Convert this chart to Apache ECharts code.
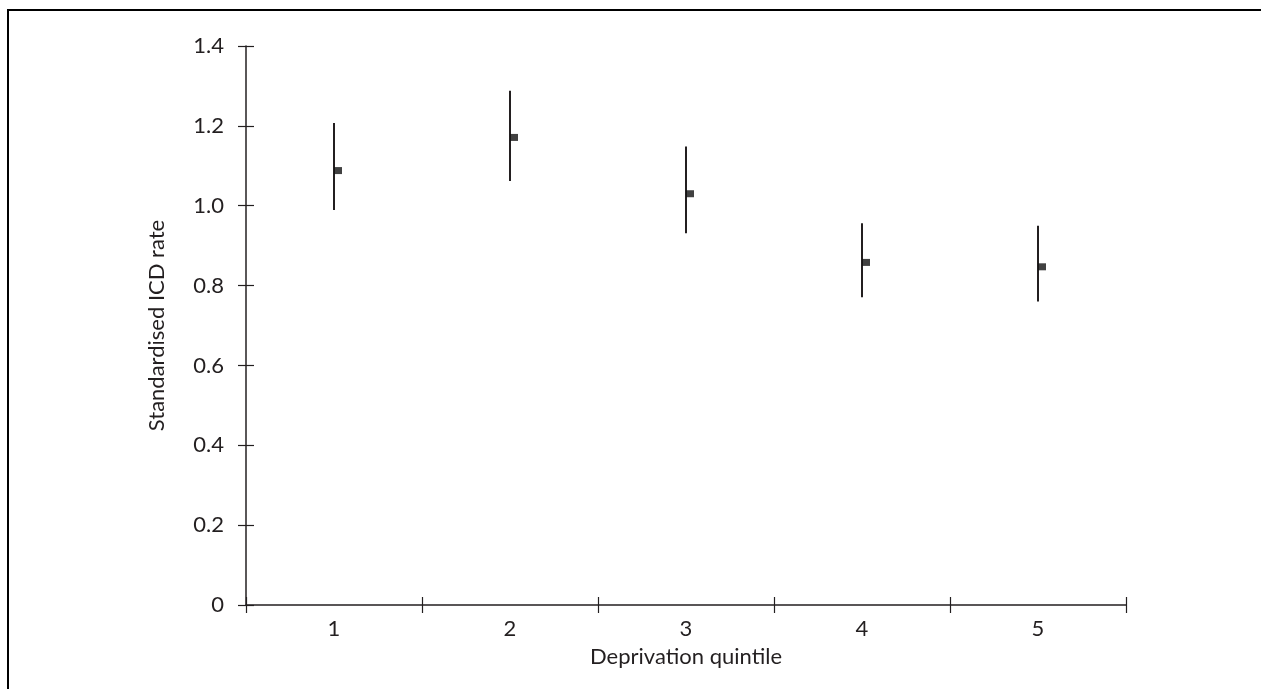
<!DOCTYPE html>
<html><head><meta charset="utf-8">
<script src="https://cdn.jsdelivr.net/npm/echarts@6/dist/echarts.min.js"></script>
<style>html,body{margin:0;padding:0;background:#fff}#c{width:1261px;height:689px}</style>
</head><body><div id="c"></div>
<script>
const categories = ['1', '2', '3', '4', '5'];
const rates = [1.088, 1.171, 1.030, 0.858, 0.847];
const lowerCI = [0.989, 1.062, 0.931, 0.771, 0.760];
const upperCI = [1.207, 1.288, 1.148, 0.956, 0.950];
const yTicks = [0, 0.2, 0.4, 0.6, 0.8, 1.0, 1.2, 1.4];

const FONT = 'Lato';
const FS = 22;
const INK = '#231f20';
const chart = echarts.init(document.getElementById('c'), null, {renderer: 'canvas'});

const fmt = v => (v === 0 ? '0' : v.toFixed(1));

chart.setOption({
  animation: false,
  backgroundColor: '#fff',
  graphic: [{
    type: 'rect', shape: {x: 8, y: 10, width: 1300, height: 700},
    style: {fill: 'none', stroke: '#000', lineWidth: 2}, silent: true, z: 0
  }],
  grid: {left: 246, right: 135, top: 46, bottom: 84},
  xAxis: [{
    type: 'category', data: categories, boundaryGap: true,
    name: 'Deprivation quintile', nameLocation: 'middle', nameGap: 41,
    nameTextStyle: {fontFamily: FONT, fontSize: FS, color: INK},
    axisLine: {lineStyle: {color: INK, width: 1.5}},
    axisTick: {show: true, length: 8, interval: 0, lineStyle: {color: INK, width: 1.2}},
    axisLabel: {fontFamily: FONT, fontSize: FS, color: INK, margin: 13},
    splitLine: {show: false}
  }, {
    type: 'category', data: categories, boundaryGap: true, position: 'bottom',
    axisLine: {show: false},
    axisTick: {show: true, inside: true, length: 8, interval: 0, lineStyle: {color: INK, width: 1.2}},
    axisLabel: {show: false}, splitLine: {show: false}
  }],
  yAxis: [{
    type: 'value', min: 0, max: 1.4, interval: 0.2,
    name: 'Standardised ICD rate', nameLocation: 'middle', nameGap: 78,
    nameTextStyle: {fontFamily: FONT, fontSize: FS, color: INK},
    axisLine: {show: true, lineStyle: {color: INK, width: 1.5}},
    axisTick: {show: true, length: 8, lineStyle: {color: INK, width: 1.2}},
    axisLabel: {fontFamily: FONT, fontSize: FS, color: INK, margin: 22,
      formatter: v => { const t = yTicks.find(x => Math.abs(x - v) < 1e-6); return t === undefined ? '' : fmt(t); }},
    splitLine: {show: false}
  }, {
    type: 'value', min: 0, max: 1.4, interval: 0.2, position: 'left',
    axisLine: {show: false},
    axisTick: {show: true, inside: true, length: 8, lineStyle: {color: INK, width: 1.2}},
    axisLabel: {show: false}, splitLine: {show: false}
  }],
  series: [{
    type: 'custom',
    xAxisIndex: 0, yAxisIndex: 0,
    data: categories.map((c, i) => [i, lowerCI[i], upperCI[i]]),
    renderItem: (params, api) => {
      const lo = api.coord([api.value(0), api.value(1)]);
      const hi = api.coord([api.value(0), api.value(2)]);
      return {
        type: 'line',
        shape: {x1: lo[0], y1: lo[1], x2: hi[0], y2: hi[1]},
        style: {stroke: INK, lineWidth: 2}
      };
    },
    z: 2
  }, {
    type: 'scatter',
    xAxisIndex: 0, yAxisIndex: 0,
    data: categories.map((c, i) => [i, rates[i]]),
    symbol: 'rect', symbolSize: [8, 7], symbolOffset: [4, 0],
    itemStyle: {color: '#111'}, z: 3
  }]
});
</script></body></html>
